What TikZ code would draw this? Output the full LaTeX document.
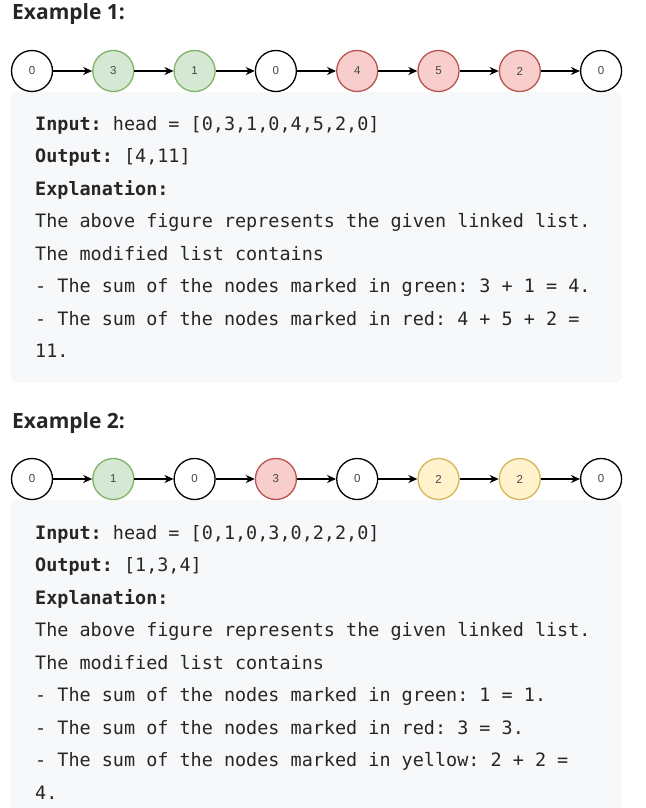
\documentclass[tikz,border=0pt]{standalone}
\usepackage{fontspec}
\setmainfont{Open Sans}
\setmonofont{DejaVu Sans Mono}
\newfontfamily\nodefont{Liberation Sans}
\usetikzlibrary{arrows.meta}
\definecolor{txt}{HTML}{262626}
\definecolor{boxbg}{HTML}{F7F8FA}
\definecolor{gfill}{HTML}{D5E8D4}
\definecolor{gline}{HTML}{82B366}
\definecolor{rfill}{HTML}{F8CECC}
\definecolor{rline}{HTML}{B85450}
\definecolor{yfill}{HTML}{FFF2CC}
\definecolor{yline}{HTML}{D6B656}
\tikzset{
  lnode/.style={circle, minimum size=41pt, inner sep=0pt, line width=1.3pt, font=\nodefont\fontsize{11.5}{13}\selectfont, text=txt!85},
  nplain/.style={draw=black, fill=white},
  ngreen/.style={draw=gline, fill=gfill},
  nred/.style={draw=rline, fill=rfill},
  nyellow/.style={draw=yline, fill=yfill},
  arr/.style={line width=1.5pt, -{Stealth[length=9pt,width=8pt]}},
  heading/.style={anchor=base west, inner sep=0pt, text=txt, font=\bfseries\fontsize{21}{24}\selectfont},
  codeline/.style={anchor=base west, inner sep=0pt, text=txt, font=\ttfamily\fontsize{18.45}{20}\selectfont},
  codebox/.style={fill=boxbg, draw=none, rounded corners=5pt}
}
\begin{document}
\begin{tikzpicture}[x=1pt,y=-1pt]
\useasboundingbox (0,0) rectangle (645,808);
\clip (0,0) rectangle (645,808);
\fill[white] (0,0) rectangle (645,808);

% Example 1
\node[heading] (h1) at (12,20) {Example 1:};
\fill[codebox] (11,92) rectangle (622,382);
\foreach \v/\s [count=\i] in {0/nplain,3/ngreen,1/ngreen,0/nplain,4/nred,5/nred,2/nred,0/nplain}
  \node[lnode,\s] (a\i) at ({32+(\i-1)*81.3},71) {\v};
\foreach \i [evaluate=\i as \j using int(\i+1)] in {1,...,7}
  \draw[arr] (a\i) -- (a\j);

\node[codeline] (t11) at (35,130) {\textbf{Input:} head = [0,3,1,0,4,5,2,0]};
\node[codeline] (t12) at (35,162.5) {\textbf{Output:} [4,11]};
\node[codeline] (t13) at (35,195) {\textbf{Explanation:}};
\node[codeline] (t14) at (35,227.5) {The above figure represents the given linked list.};
\node[codeline] (t15) at (35,260) {The modified list contains};
\node[codeline] (t16) at (35,292.5) {- The sum of the nodes marked in green: 3 + 1 = 4.};
\node[codeline] (t17) at (35,325) {- The sum of the nodes marked in red: 4 + 5 + 2 =};
\node[codeline] (t18) at (35,357.5) {11.};

% Example 2
\node[heading] (h2) at (12,428) {Example 2:};
\fill[codebox] (11,500) rectangle (622,830);
\foreach \v/\s [count=\i] in {0/nplain,1/ngreen,0/nplain,3/nred,0/nplain,2/nyellow,2/nyellow,0/nplain}
  \node[lnode,\s] (b\i) at ({32+(\i-1)*81.3},479) {\v};
\foreach \i [evaluate=\i as \j using int(\i+1)] in {1,...,7}
  \draw[arr] (b\i) -- (b\j);

\node[codeline] (t21) at (35,539) {\textbf{Input:} head = [0,1,0,3,0,2,2,0]};
\node[codeline] (t22) at (35,571.5) {\textbf{Output:} [1,3,4]};
\node[codeline] (t23) at (35,604) {\textbf{Explanation:}};
\node[codeline] (t24) at (35,636.5) {The above figure represents the given linked list.};
\node[codeline] (t25) at (35,669) {The modified list contains};
\node[codeline] (t26) at (35,701.5) {- The sum of the nodes marked in green: 1 = 1.};
\node[codeline] (t27) at (35,734) {- The sum of the nodes marked in red: 3 = 3.};
\node[codeline] (t28) at (35,766.5) {- The sum of the nodes marked in yellow: 2 + 2 =};
\node[codeline] (t29) at (35,799) {4.};
\end{tikzpicture}
\end{document}
